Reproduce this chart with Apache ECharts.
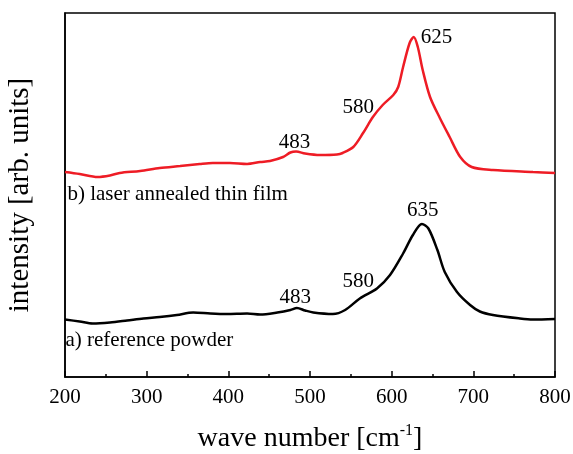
<!DOCTYPE html>
<html>
<head>
<meta charset="utf-8">
<script src="https://cdn.jsdelivr.net/npm/echarts@6/dist/echarts.min.js"></script>
<style>
html,body{margin:0;padding:0;background:#fff;}
#chart{width:573px;height:454px;}
</style>
</head>
<body>
<div id="chart"></div>
<script>
// wave numbers (cm^-1) and intensities (arb. units, offset per spectrum)
var filmX = [200, 218, 240, 255, 267, 292, 316, 341, 365, 381, 402, 423, 439, 451, 467, 476, 483, 494, 512, 533, 540, 553, 565, 577, 589, 602, 608, 614, 622, 627, 632, 638, 647, 659, 671, 684, 698, 724, 773, 800];
var filmY = [205, 203, 200, 201.5, 204, 206, 209, 211, 213, 214, 214, 213, 215, 216, 220, 224.5, 225.5, 223.5, 222, 222.5, 224, 230, 244, 260, 272, 282, 290, 310, 334, 340, 330, 307, 280, 259, 240, 220, 210, 207, 205, 204];

var powderX = [200, 218, 234, 255, 276, 296, 316, 337, 357, 378, 398, 423, 439, 460, 476, 484, 494, 504, 528, 543, 561, 582, 598, 614, 626, 637, 645, 656, 665, 680, 696, 708, 724, 757, 773, 800];
var powderY = [57.5, 55.5, 53.5, 54.5, 56.5, 58.5, 60, 62, 64.5, 63.5, 63, 63.5, 62.5, 64.5, 67, 69, 66.5, 64.5, 63, 67, 78.5, 88.5, 102, 123.5, 142, 153, 148.5, 127, 105, 85, 72, 65.5, 62, 58.5, 57.5, 58];

var xTicks = [200, 300, 400, 500, 600, 700, 800];

// peak annotations: [wave number, intensity, text]
var filmPeaks = [[481, 235, '483'], [559, 270, '580'], [655, 340, '625']];
var powderPeaks = [[482, 80, '483'], [559, 96, '580'], [638, 167, '635']];
var sampleLabels = [[203, 183, 'b) laser annealed thin film'], [200.5, 37, 'a) reference powder']];

function zip(xs, ys) { return xs.map(function (x, i) { return [x, ys[i]]; }); }
function marks(list, align) {
  return list.map(function (p) {
    return { coord: [p[0], p[1]], value: p[2],
      label: { formatter: p[2], position: align === 'left' ? 'right' : 'inside', distance: 0 } };
  });
}

var FONT = 'Liberation Serif';
var chart = echarts.init(document.getElementById('chart'));
chart.setOption({
  animation: false,
  backgroundColor: '#fff',
  grid: { left: 65, right: 18, top: 13, bottom: 77, containLabel: false, outerBoundsMode: 'none',
    show: true, borderColor: '#000', borderWidth: 1.5, backgroundColor: 'transparent' },
  xAxis: {
    type: 'value', min: xTicks[0], max: xTicks[xTicks.length - 1], interval: 100,
    axisLine: { show: true, lineStyle: { color: '#000', width: 1.5 } },
    axisTick: { show: true, inside: true, length: 6, lineStyle: { color: '#000', width: 1.5 } },
    minorTick: { show: true, splitNumber: 2, length: 3, lineStyle: { color: '#000', width: 1.5 } },
    splitLine: { show: false },
    axisLabel: { color: '#000', fontFamily: FONT, fontSize: 21, margin: 10 },
    name: 'wave number [cm{sup|-1}]',
    nameLocation: 'middle', nameGap: 46,
    nameTextStyle: { color: '#000', fontFamily: FONT, fontSize: 28,
      rich: { sup: { fontFamily: FONT, fontSize: 16, color: '#000', padding: [0, 0, 15, 0] } } }
  },
  yAxis: {
    type: 'value', min: 0, max: 364,
    axisLine: { show: true, lineStyle: { color: '#000', width: 1.5 } },
    axisTick: { show: false }, axisLabel: { show: false }, splitLine: { show: false },
    name: 'intensity [arb. units]', nameLocation: 'middle', nameGap: 30, nameRotate: 90,
    nameTextStyle: { color: '#000', fontFamily: FONT, fontSize: 29 }
  },
  series: [
    {
      type: 'line', data: zip(filmX, filmY), smooth: 0.3, showSymbol: false,
      lineStyle: { color: '#ee1c25', width: 2.5 },
      markPoint: {
        symbol: 'circle', symbolSize: 0,
        label: { color: '#000', fontFamily: FONT, fontSize: 21 },
        data: marks(filmPeaks).concat(marks(sampleLabels.slice(0, 1), 'left'))
      }
    },
    {
      type: 'line', data: zip(powderX, powderY), smooth: 0.3, showSymbol: false,
      lineStyle: { color: '#000', width: 2.5 },
      markPoint: {
        symbol: 'circle', symbolSize: 0,
        label: { color: '#000', fontFamily: FONT, fontSize: 21 },
        data: marks(powderPeaks).concat(marks(sampleLabels.slice(1), 'left'))
      }
    }
  ]
});
</script>
</body>
</html>
